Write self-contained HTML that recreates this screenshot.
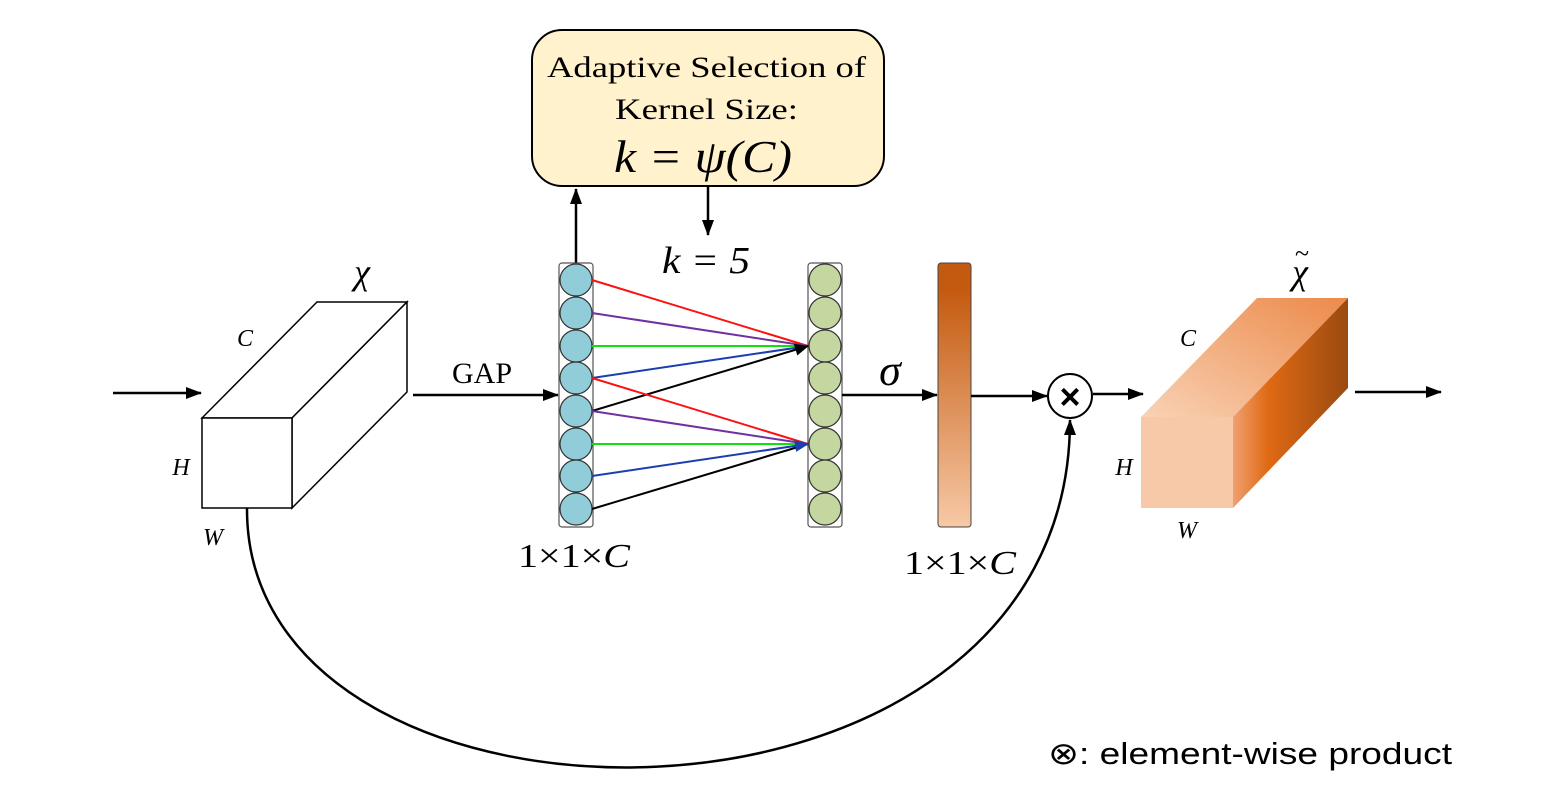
<!DOCTYPE html>
<html><head><meta charset="utf-8"><style>
html,body{margin:0;padding:0;background:#fff;}
svg text{font-family:"Liberation Serif",serif;}
</style></head><body>
<svg width="1568" height="805" viewBox="0 0 1568 805" xmlns="http://www.w3.org/2000/svg">
<defs>
<marker id="ah" markerWidth="16" markerHeight="12" refX="15" refY="6" orient="auto" markerUnits="userSpaceOnUse"><path d="M0,0 L16,6 L0,12 z" fill="#000"/></marker>
<marker id="am" markerWidth="14" markerHeight="12" refX="13" refY="6" orient="auto" markerUnits="userSpaceOnUse"><path d="M0,0 L14,6 L0,12 z" fill="#000"/></marker>
<marker id="ab" markerWidth="14" markerHeight="12" refX="13" refY="6" orient="auto" markerUnits="userSpaceOnUse"><path d="M0,0 L14,6 L0,12 z" fill="#1a3fb0"/></marker>
<linearGradient id="bar" x1="0" y1="0" x2="0" y2="1"><stop offset="0.1" stop-color="#c45a10"/><stop offset="1" stop-color="#f7c9a5"/></linearGradient>
<linearGradient id="side" x1="0" y1="0" x2="1" y2="0"><stop offset="0" stop-color="#f0a070"/><stop offset="0.3" stop-color="#e06a15"/><stop offset="1" stop-color="#9a4a10"/></linearGradient>
<linearGradient id="top" x1="0" y1="1" x2="1" y2="0"><stop offset="0" stop-color="#f9d2b5"/><stop offset="1" stop-color="#ec8a4a"/></linearGradient>
</defs>

<rect x="532" y="30" width="352" height="156" rx="30" fill="#fff2cc" stroke="#000" stroke-width="2"/>
<text x="547" y="77" font-size="30" textLength="319" lengthAdjust="spacingAndGlyphs">Adaptive Selection of</text>
<text x="615" y="119" font-size="30" textLength="183" lengthAdjust="spacingAndGlyphs">Kernel Size:</text>
<text x="614" y="172" font-size="46" font-style="italic" textLength="178" lengthAdjust="spacingAndGlyphs">k = ψ(C)</text>
<line x1="576" y1="263" x2="576" y2="189" stroke="#000" stroke-width="2.5" marker-end="url(#ah)"/>
<line x1="708" y1="187" x2="708" y2="235" stroke="#000" stroke-width="2.5" marker-end="url(#ah)"/>
<text x="662" y="273" font-size="38" font-style="italic" textLength="88" lengthAdjust="spacingAndGlyphs">k = 5</text>

<line x1="113" y1="393" x2="201" y2="393" stroke="#000" stroke-width="2.5" marker-end="url(#ah)"/>
<g fill="#fff" stroke="#000" stroke-width="1.5">
<polygon points="202,418 317,302 407,302 292,418"/>
<polygon points="292,418 407,302 407,392 292,508"/>
<rect x="202" y="418" width="90" height="90"/>
</g>
<text x="362" y="284" font-size="36" font-style="italic" text-anchor="middle">χ</text>
<text x="245" y="346" font-size="24" font-style="italic" text-anchor="middle">C</text>
<text x="181" y="475" font-size="24" font-style="italic" text-anchor="middle">H</text>
<text x="213" y="545" font-size="24" font-style="italic" text-anchor="middle">W</text>

<line x1="413" y1="395" x2="558" y2="395" stroke="#000" stroke-width="2.5" marker-end="url(#ah)"/>
<text x="482" y="383" font-size="30" text-anchor="middle">GAP</text>

<rect x="559" y="263" width="34" height="264" rx="3" fill="#fff" stroke="#555" stroke-width="1.2"/>
<g fill="#90cdd9" stroke="#333" stroke-width="1.2">
<circle cx="576" cy="280" r="16"/><circle cx="576" cy="313" r="16"/><circle cx="576" cy="346" r="16"/><circle cx="576" cy="378" r="16"/>
<circle cx="576" cy="411" r="16"/><circle cx="576" cy="444" r="16"/><circle cx="576" cy="476" r="16"/><circle cx="576" cy="509" r="16"/>
</g>
<rect x="808" y="263" width="34" height="264" rx="3" fill="#fff" stroke="#555" stroke-width="1.2"/>
<g fill="#c5d7a0" stroke="#333" stroke-width="1.2">
<circle cx="825" cy="280" r="16"/><circle cx="825" cy="313" r="16"/><circle cx="825" cy="346" r="16"/><circle cx="825" cy="378" r="16"/>
<circle cx="825" cy="411" r="16"/><circle cx="825" cy="444" r="16"/><circle cx="825" cy="476" r="16"/><circle cx="825" cy="509" r="16"/>
</g>
<g stroke-width="2">
<line x1="592" y1="280" x2="808" y2="346" stroke="#ff1010"/>
<line x1="592" y1="313" x2="808" y2="346" stroke="#7030a0"/>
<line x1="592" y1="346" x2="808" y2="346" stroke="#10e010"/>
<line x1="592" y1="378" x2="808" y2="346" stroke="#1a3fb0"/>
<line x1="592" y1="411" x2="808" y2="346" stroke="#000" marker-end="url(#am)"/>
<line x1="592" y1="378" x2="808" y2="444" stroke="#ff1010"/>
<line x1="592" y1="411" x2="808" y2="444" stroke="#7030a0"/>
<line x1="592" y1="444" x2="808" y2="444" stroke="#10e010"/>
<line x1="592" y1="509" x2="808" y2="444" stroke="#000"/>
<line x1="592" y1="476" x2="808" y2="444" stroke="#1a3fb0" marker-end="url(#ab)"/>
</g>
<text x="518" y="567" font-size="34" textLength="112" lengthAdjust="spacingAndGlyphs">1×1×<tspan font-style="italic">C</tspan></text>

<line x1="842" y1="395" x2="937" y2="395" stroke="#000" stroke-width="2.5" marker-end="url(#ah)"/>
<text x="890" y="385" font-size="44" font-style="italic" text-anchor="middle">σ</text>

<rect x="938" y="263" width="33" height="264" rx="3" fill="url(#bar)" stroke="#444" stroke-width="1"/>
<text x="904" y="574" font-size="34" textLength="112" lengthAdjust="spacingAndGlyphs">1×1×<tspan font-style="italic">C</tspan></text>

<line x1="971" y1="396" x2="1047" y2="396" stroke="#000" stroke-width="2.5" marker-end="url(#ah)"/>
<circle cx="1070" cy="396" r="22" fill="#fff" stroke="#000" stroke-width="2"/>
<text x="1070" y="409" font-size="36" font-weight="bold" text-anchor="middle" style="font-family:'Liberation Sans',sans-serif">×</text>
<line x1="1093" y1="394" x2="1143" y2="394" stroke="#000" stroke-width="2.5" marker-end="url(#ah)"/>

<path d="M247,508 C245,865 1070,870 1070,420" fill="none" stroke="#000" stroke-width="2.5" marker-end="url(#ah)"/>

<polygon points="1141,417 1257,298 1348,298 1233,417" fill="url(#top)"/>
<polygon points="1233,417 1348,298 1348,388 1233,508" fill="url(#side)"/>
<rect x="1141" y="417" width="92" height="91" fill="#f7c9a8"/>
<text x="1300" y="284" font-size="36" font-style="italic" text-anchor="middle">χ</text>
<text x="1302" y="262" font-size="26" text-anchor="middle">~</text>
<text x="1188" y="346" font-size="24" font-style="italic" text-anchor="middle">C</text>
<text x="1124" y="475" font-size="24" font-style="italic" text-anchor="middle">H</text>
<text x="1187" y="538" font-size="24" font-style="italic" text-anchor="middle">W</text>
<line x1="1355" y1="392" x2="1441" y2="392" stroke="#000" stroke-width="2.5" marker-end="url(#ah)"/>

<text x="1048" y="764" font-size="31" textLength="404" lengthAdjust="spacingAndGlyphs" style="font-family:'Liberation Sans','DejaVu Sans',sans-serif">⊗: element-wise product</text>
</svg>
</body></html>
